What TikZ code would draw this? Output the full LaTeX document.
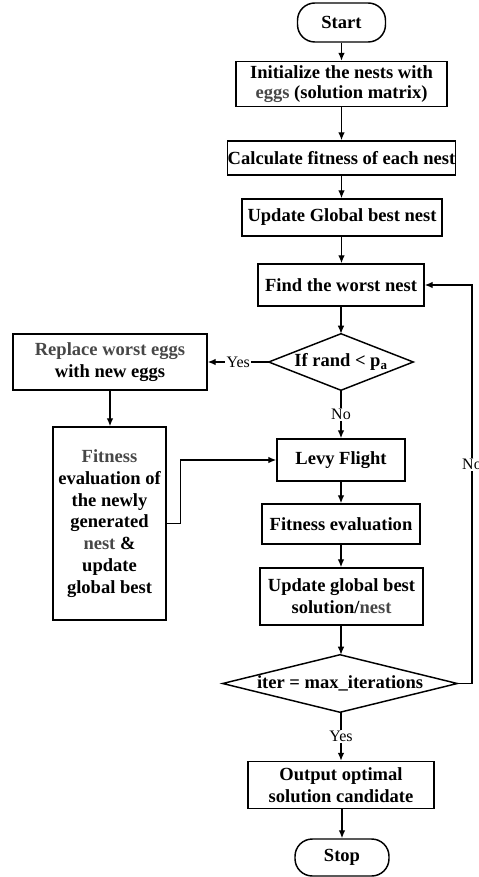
\documentclass[tikz,border=0pt]{standalone}
\usepackage{fontspec}
\setmainfont{Liberation Serif}
\usetikzlibrary{arrows.meta}
\definecolor{softtxt}{gray}{0.28}
\tikzset{
  sz/.style 2 args={minimum width=#1*0.75pt, minimum height=#2*0.75pt},
  box/.style={draw, line width=1.1pt, inner sep=0pt, align=center,
    font=\fontsize{13.9}{16.4}\selectfont\bfseries},
  term/.style={box, rounded corners=13pt},
  decision/.style={inner sep=0pt, align=center,
    font=\fontsize{13.9}{16.4}\selectfont\bfseries},
  flow/.style={line width=1pt, -{Latex[length=6pt,width=5pt]}},
  lbl/.style={fill=white, inner sep=1pt, font=\fontsize{12}{14}\selectfont},
}
\newcommand{\soft}[1]{\textcolor{softtxt}{#1}}
\begin{document}
\begin{tikzpicture}[x=0.75pt, y=-0.75pt]
\useasboundingbox (0,0) rectangle (478,877);

% main column
\node[term, sz={88}{39}]  (start) at (341.5,22.5) {Start};
\node[box, sz={211}{45}, font=\fontsize{13.9}{15}\selectfont\bfseries]
  (init) at (341.5,84) {Initialize the nests with\\\soft{eggs} (solution matrix)};
\node[box, sz={227}{34}]  (calc) at (341.5,158) {Calculate fitness of each nest};
\node[box, sz={200}{37}]  (updg) at (342,217.5) {Update Global best nest};
\node[box, sz={166}{42}]  (find) at (341,285) {Find the worst nest};
\node[decision, sz={144}{56}] (dec1) at (341,362) {If rand < p\textsubscript{a}};
\node[box, sz={128}{42}]  (levy) at (341,460) {Levy Flight};
\node[box, sz={158}{40}]  (fite) at (341,524) {Fitness evaluation};
\node[box, sz={163}{57}]  (upds) at (341.5,596.5) {Update global best\\solution/\soft{nest}};
\node[decision, sz={234}{57}] (dec2) at (340,683.5) {iter = max\_iterations};
\node[box, sz={186}{47}]  (outp) at (341,785) {Output optimal\\solution candidate};
\node[term, sz={94}{37}]  (stop) at (342,857.5) {Stop};

% egg replacement branch
\node[box, sz={194}{56}]  (repl) at (110,362) {\soft{Replace worst eggs}\\with new eggs};
\node[box, sz={113}{193}] (fitl) at (109.5,523.5)
  {\soft{Fitness}\\evaluation of\\the newly\\generated\\\soft{nest} \&\\update\\global best};

% decision outlines
\draw[line width=1.1pt] (dec1.west) -- (dec1.north) -- (dec1.east) -- (dec1.south) -- cycle;
\draw[line width=1.1pt] (dec2.west) -- (dec2.north) -- (dec2.east) -- (dec2.south) -- cycle;

% return line of the main loop
\coordinate (loop) at (472,0);

% connectors
\draw[flow] (start.south) -- (start.south |- init.north);
\draw[flow] (start.south |- init.south) -- (start.south |- calc.north);
\draw[flow] (start.south |- calc.south) -- (start.south |- updg.north);
\draw[flow] (start.south |- updg.south) -- (start.south |- find.north);
\draw[flow] (find.south) -- (dec1.north);
\draw[flow] (dec1.west) -- node[lbl] {Yes} (repl.east);
\draw[flow] (dec1.south) -- node[lbl] {No} (levy.north);
\draw[flow] (repl.south) -- (repl.south |- fitl.north);
\draw[flow] (fitl.east) -- ++(14,0) |- (levy.west);
\draw[flow] (levy.south) -- (fite.north);
\draw[flow] (fite.south) -- (fite.south |- upds.north);
\draw[flow] (fite.south |- upds.south) -- (fite.south |- dec2.north);
\draw[flow] (fite.south |- dec2.south) -- node[lbl] {Yes} (fite.south |- outp.north);
\draw[flow] (outp.south) -- (outp.south -| stop.north) -- (stop.north);
\draw[flow] (dec2.east) -- (dec2.east -| loop)
  -- node[lbl, pos=0.55] {No} (find.east -| loop) -- (find.east);
\end{tikzpicture}
\end{document}
